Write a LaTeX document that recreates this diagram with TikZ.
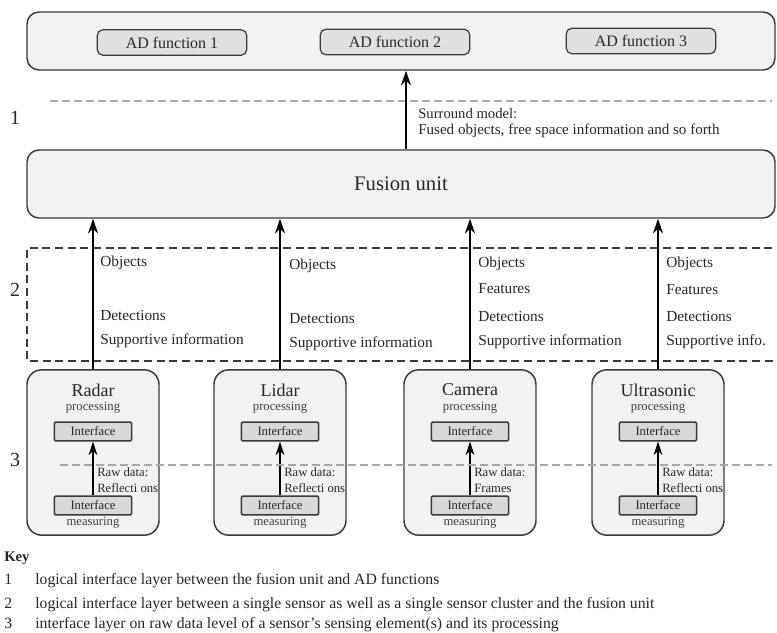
\documentclass[tikz,border=0pt]{standalone}
\usepackage{fontspec}
\setmainfont{Liberation Serif}
\usetikzlibrary{arrows.meta,calc}
\definecolor{ink}{HTML}{26262F}
\definecolor{subink}{HTML}{463C3C}
\definecolor{boxfill}{HTML}{F2F2F2}
\definecolor{boxline}{HTML}{3A3A3A}
\definecolor{iffill}{HTML}{D8D8D8}
\definecolor{layer}{HTML}{A8A8A8}
\tikzset{
  bigbox/.style={draw=boxline, fill=boxfill, line width=1.1pt, rounded corners=9pt},
  adbox/.style={draw=boxline, fill=iffill!70!boxfill, line width=0.9pt, rounded corners=4pt,
    minimum width=112pt, minimum height=19pt, font=\fontsize{12}{14}\selectfont, text=ink},
  sensorbox/.style={draw=boxline, fill=boxfill, line width=1.1pt, rounded corners=11pt,
    minimum width=99pt, minimum height=124pt},
  ifbox/.style={draw=boxline, fill=iffill, line width=1.2pt, rounded corners=1pt,
    minimum width=58pt, minimum height=14pt, inner sep=1pt, font=\fontsize{9.5}{11}\selectfont, text=ink},
  flow/.style={line width=1.3pt, -{Stealth[length=11pt, width=7.5pt, inset=3.5pt]}},
  rawflow/.style={line width=1.3pt, -{Stealth[length=10pt, width=6.5pt, inset=3pt]}},
  layerline/.style={draw=layer, line width=1.6pt, dash pattern=on 6pt off 3pt},
  sensorlayer/.style={draw=boxline, line width=1.8pt, dash pattern=on 6pt off 3.5pt},
  lbl/.style={anchor=west, inner sep=0pt, text=ink, font=\fontsize{11.5}{13}\selectfont},
  title/.style={inner sep=0pt, text=ink, font=\fontsize{13.5}{15}\selectfont},
  sub/.style={inner sep=0pt, text=subink, font=\fontsize{9.5}{11}\selectfont},
  raw/.style={anchor=north west, inner sep=0pt, align=left, text=ink,
    font=\fontsize{9.5}{12}\selectfont},
  layerno/.style={inner sep=0pt, text=ink, font=\fontsize{15}{17}\selectfont},
  keytxt/.style={anchor=base west, inner sep=0pt, text=ink, font=\fontsize{11.8}{13}\selectfont},
}
\begin{document}
\begin{tikzpicture}[x=0.75pt, y=-0.75pt]
\useasboundingbox (0,0) rectangle (777,632);
\clip (0,0) rectangle (777,632);

% AD functions
\node[bigbox, minimum width=561pt, minimum height=43.5pt] (adlayer) at (401,41) {};
\node[adbox] (ad1) at (172,42.5) {AD function 1};
\node[adbox] (ad2) at (395,42) {AD function 2};
\node[adbox] (ad3) at (641,41) {AD function 3};

% layer 1
\draw[layerline] (50,101) -- (772,101);
\node[layerno] (l1) at (15,118) {1};

% fusion unit
\node[bigbox, minimum width=561pt, minimum height=51pt] (fusion) at (401,184)
  {\fontsize{15.5}{17}\selectfont\color{ink}Fusion unit};
\coordinate (up) at ($(fusion.north)+(5,0)$);
\draw[flow] (up) -- (up |- adlayer.south);
\node[lbl, font=\fontsize{11}{13}\selectfont] (sm1) at (418,114) {Surround model:};
\node[lbl, font=\fontsize{11.3}{13}\selectfont] (sm2) at (418,131) {Fused objects, free space information and so forth};

% layer 2
\draw[sensorlayer] (785,248) -- (27,248) -- (27,361) -- (785,361);
\node[layerno] (l2) at (15,290) {2};

% sensors
\foreach \id/\cx/\name in {radar/93/Radar, lidar/280/Lidar, camera/470/Camera, ultra/658/Ultrasonic}{
  \node[sensorbox] (\id) at (\cx,452.5) {};
  \node[title] (\id-t) at (\cx,390) {\name};
  \node[sub] (\id-p) at (\cx,408) {processing};
  \node[ifbox] (\id-ip) at (\cx,431.5) {Interface};
  \node[ifbox] (\id-im) at (\cx,505.5) {Interface};
  \node[sub] (\id-m) at (\cx,523) {measuring};
  \draw[rawflow] (\id-im.north) -- (\id-ip.south);
  \draw[flow] (\id.north) -- (\id.north |- fusion.south);
}

% layer 3
\draw[layerline] (60,465) -- (772,465);
\node[layerno] (l3) at (15,460) {3};

% raw data labels
\node[raw] (rr) at (97,467) {Raw data:\\Reflecti ons};
\node[raw] (lr) at (284,467) {Raw data:\\Reflecti ons};
\node[raw] (cr) at (474,467) {Raw data:\\Frames};
\node[raw] (ur) at (662,467) {Raw data:\\Reflecti ons};

% interface contents of layer 2
\node[lbl] (ro) at (100,263) {Objects};
\node[lbl] (rd) at (100,315) {Detections};
\node[lbl] (rs) at (100,341) {Supportive information};
\node[lbl] (lo) at (289,266) {Objects};
\node[lbl] (ld) at (289,318) {Detections};
\node[lbl] (ls) at (289,344) {Supportive information};
\node[lbl] (co) at (478,264) {Objects};
\node[lbl] (cf) at (478,289) {Features};
\node[lbl] (cd) at (478,316) {Detections};
\node[lbl] (cs) at (478,342) {Supportive information};
\node[lbl] (uo) at (666,264) {Objects};
\node[lbl] (uf) at (666,290) {Features};
\node[lbl] (ud) at (666,316) {Detections};
\node[lbl] (us) at (666,342) {Supportive info.};

% key
\node[keytxt, font=\fontsize{11}{12}\bfseries] (key) at (4,561) {Key};
\node[keytxt] (k1n) at (4,584) {1};
\node[keytxt] (k1) at (35,584) {logical interface layer between the fusion unit and AD functions};
\node[keytxt] (k2n) at (4,608) {2};
\node[keytxt] (k2) at (35,608) {logical interface layer between a single sensor as well as a single sensor cluster and the fusion unit};
\node[keytxt] (k3n) at (4,628) {3};
\node[keytxt] (k3) at (35,628) {interface layer on raw data level of a sensor's sensing element(s) and its processing};
\end{tikzpicture}
\end{document}
